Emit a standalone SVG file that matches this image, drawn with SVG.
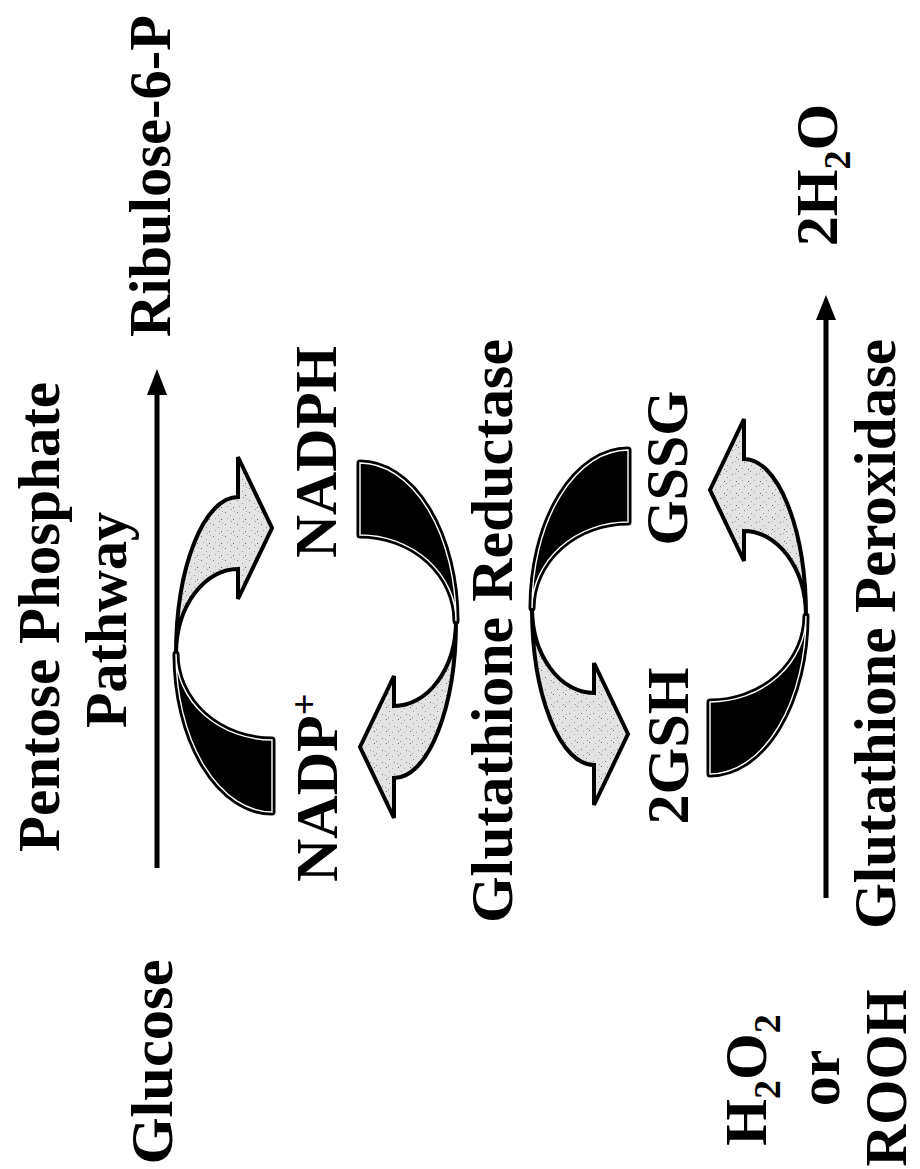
<svg xmlns="http://www.w3.org/2000/svg" xmlns:xlink="http://www.w3.org/1999/xlink" width="920" height="1169" viewBox="0 0 920 1169">
  <style>
    .t { font-family: "Liberation Serif", "Times New Roman", serif; font-weight: bold; font-size: 60px; fill: #000; text-anchor: middle; }
    .ts { text-anchor: start; }
    .sub { font-size: 38px; }
    .light { fill: url(#speckle); stroke: #000; stroke-width: 4; stroke-linejoin: miter; }
    .dark { fill: #000; stroke: #000; stroke-width: 7; stroke-linejoin: round; }
    .darkline { fill: none; stroke: #fff; stroke-width: 1.4; }
    .line { stroke: #000; stroke-width: 5; fill: none; }
    .head { fill: #000; stroke: none; }
  </style>
  <defs>
    <pattern id="speckle" patternUnits="userSpaceOnUse" width="12" height="12">
      <rect width="12" height="12" fill="#e3e3e3"/>
      <rect x="1" y="2" width="1" height="1" fill="#777"/>
      <rect x="6" y="5" width="1" height="1" fill="#999"/>
      <rect x="9" y="9" width="1" height="1" fill="#666"/>
      <rect x="3" y="8" width="1" height="1" fill="#aaa"/>
      <rect x="10" y="1" width="1" height="1" fill="#aaa"/>
      <rect x="7" y="11" width="1" height="1" fill="#888"/>
    </pattern>
    <path id="lightBand" d="M0,0 A62,157 0 0 1 62,-157 L62,-197 L96,-126 L62,-55 L62,-85 A62,85 0 0 0 0,0 Z"/>
    <path id="darkBand" d="M0,0 A96,158 0 0 0 96,158 L96,86 A96,86 0 0 1 0,0 Z"/>
  </defs>
  <rect width="920" height="1169" fill="#fff"/>

  <g id="connectors">
    <line class="line" x1="157" y1="868" x2="157" y2="388"/>
    <polygon class="head" points="157,369 147,395 167,395"/>
    <line class="line" x1="826" y1="898" x2="826" y2="314"/>
    <polygon class="head" points="826,295 816,320 836,320"/>
  </g>

  <g id="cycle-ppp" transform="translate(176,654)">
    <use xlink:href="#darkBand" class="dark"/>
    <use xlink:href="#darkBand" class="darkline"/>
    <use xlink:href="#lightBand" class="light"/>
  </g>
  <g id="cycle-gr-left" transform="translate(456,621) rotate(180)">
    <use xlink:href="#darkBand" class="dark"/>
    <use xlink:href="#darkBand" class="darkline"/>
    <use xlink:href="#lightBand" class="light"/>
  </g>
  <g id="cycle-gr-right" transform="translate(532,608) scale(1,-1)">
    <use xlink:href="#darkBand" class="dark"/>
    <use xlink:href="#darkBand" class="darkline"/>
    <use xlink:href="#lightBand" class="light"/>
  </g>
  <g id="cycle-gpx" transform="translate(806,616) scale(-1,1)">
    <use xlink:href="#darkBand" class="dark"/>
    <use xlink:href="#darkBand" class="darkline"/>
    <use xlink:href="#lightBand" class="light"/>
  </g>

  <g id="pentose-title">
    <text class="t" transform="translate(59,617) rotate(-90)" textLength="470" lengthAdjust="spacingAndGlyphs">Pentose Phosphate</text>
    <text class="t" transform="translate(126,620) rotate(-90)" textLength="216" lengthAdjust="spacingAndGlyphs">Pathway</text>
  </g>
  <g id="glucose">
    <text class="t" transform="translate(172,1062) rotate(-90)" textLength="205" lengthAdjust="spacingAndGlyphs">Glucose</text>
  </g>
  <g id="ribulose">
    <text class="t" transform="translate(170,176) rotate(-90)" textLength="322" lengthAdjust="spacingAndGlyphs">Ribulose-6-P</text>
  </g>
  <g id="nadph">
    <text class="t" transform="translate(336,452) rotate(-90)" textLength="212" lengthAdjust="spacingAndGlyphs">NADPH</text>
  </g>
  <g id="nadp">
    <text class="t ts" transform="translate(337,882) rotate(-90)">NADP<tspan class="sub" dy="-20">+</tspan></text>
  </g>
  <g id="gr-label">
    <text class="t" transform="translate(512,631) rotate(-90)" textLength="584" lengthAdjust="spacingAndGlyphs">Glutathione Reductase</text>
  </g>
  <g id="gssg">
    <text class="t" transform="translate(687,468) rotate(-90)" textLength="155" lengthAdjust="spacingAndGlyphs">GSSG</text>
  </g>
  <g id="gsh">
    <text class="t" transform="translate(688,746) rotate(-90)" textLength="157" lengthAdjust="spacingAndGlyphs">2GSH</text>
  </g>
  <g id="h2o">
    <text class="t" transform="translate(837,175) rotate(-90)">2H<tspan class="sub" dy="13">2</tspan><tspan dy="-13">O</tspan></text>
  </g>
  <g id="gpx-label">
    <text class="t" transform="translate(895,634) rotate(-90)" textLength="590" lengthAdjust="spacingAndGlyphs">Glutathione Peroxidase</text>
  </g>
  <g id="peroxide">
    <text class="t" transform="translate(766,1080) rotate(-90)">H<tspan class="sub" dy="14">2</tspan><tspan dy="-14">O</tspan><tspan class="sub" dy="14">2</tspan></text>
    <text class="t" transform="translate(839,1078) rotate(-90)">or</text>
    <text class="t" transform="translate(906,1078) rotate(-90)" textLength="177" lengthAdjust="spacingAndGlyphs">ROOH</text>
  </g>
</svg>
